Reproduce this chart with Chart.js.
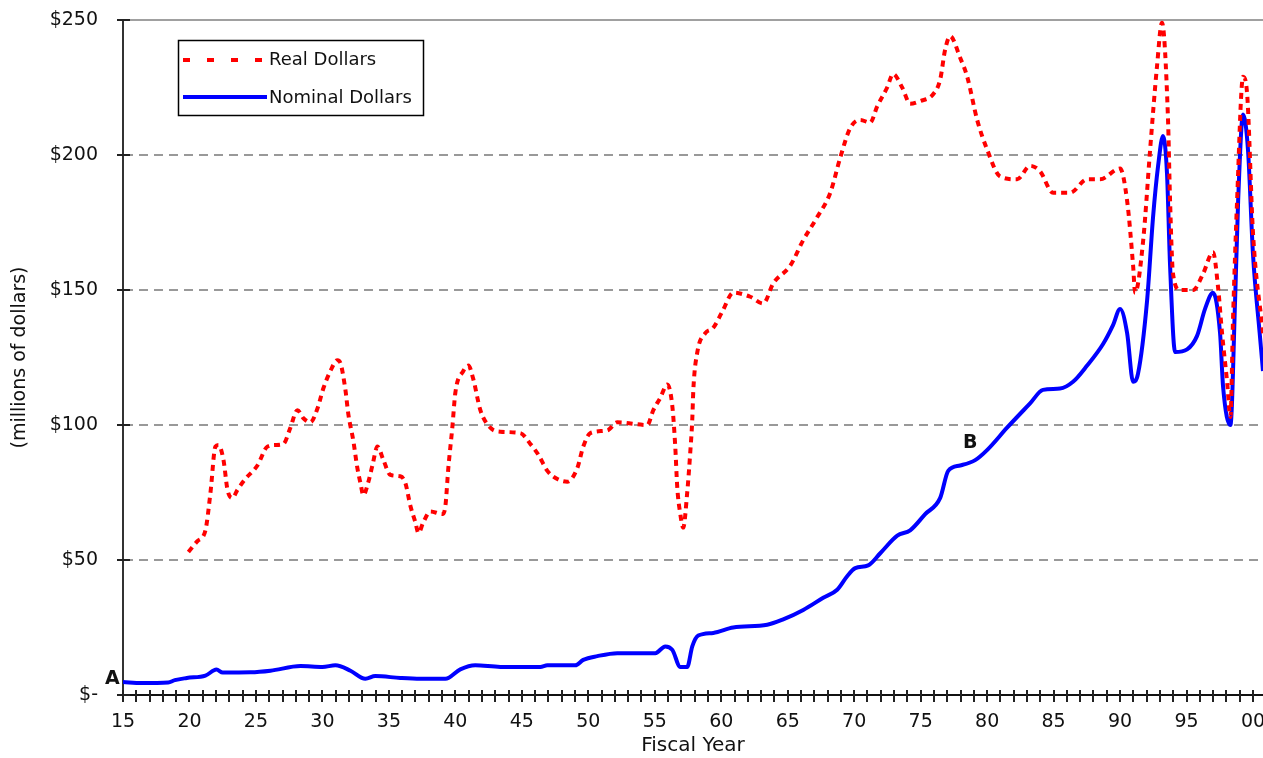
<!DOCTYPE html>
<html><head><meta charset="utf-8">
<script src="https://cdn.jsdelivr.net/npm/chart.js@4.4.0/dist/chart.umd.min.js"></script>
<style>html,body{margin:0;padding:0;background:#fff}#wrap{width:1263px;height:758px;position:relative}</style>
</head><body><div id="wrap"><canvas id="c"></canvas></div>
<script>
// ---- data (fiscal year, millions of dollars) ----
const realYears = [19.92,20.6,21.2,21.58,21.95,22.18,22.56,22.86,23.23,23.61,24.2,25.11,25.86,26.47,27.07,27.59,28.12,28.57,29.1,29.62,30.08,30.6,31.13,31.35,31.73,31.95,32.33,32.63,32.86,33.08,33.46,33.76,34.14,34.59,35.11,35.86,36.24,36.62,36.99,37.22,37.59,38.12,39.02,39.25,39.47,39.77,40.0,40.6,40.98,41.35,41.88,42.63,43.38,44.89,45.64,46.24,46.92,47.67,48.42,49.17,49.62,50.15,51.43,52.18,54.44,54.89,55.41,55.94,56.32,56.54,56.69,56.92,57.14,57.44,57.67,57.82,57.9,58.2,58.8,59.4,60.08,60.9,62.18,63.16,63.91,65.19,66.17,67.22,68.2,68.95,69.7,70.45,71.2,71.73,72.48,72.93,73.61,74.21,74.96,75.94,76.47,76.84,77.22,77.97,78.5,79.25,80.0,80.98,82.26,83.23,83.98,84.96,86.24,87.52,88.5,90.0,90.53,90.98,91.13,91.73,92.26,92.78,93.15,93.6,93.76,93.98,94.51,95.49,96.24,96.99,97.37,97.67,98.05,98.3,98.5,98.8,99.25,99.55,100.0,100.75];
const realValues = [53,57,61,75,92,92.6,87,76,73,76,80,85,92,92.6,93,99,105.5,102.5,101,106,113.7,120,124,123,113,104,94,84,78.5,74,79,85,92,87,81.5,81,78.5,70,64,60,64,68,67,70,84,99,112,120,122,117,105.5,99,97.5,97,93,89,83,80,79,84,92,97,98,101,100,105.5,110,115,107,92,77,67,62,75,90,102,113,127,134,136,142,149,147.5,145,152.5,159,168.5,177,186,199,210,213,212,218,225,230,225,219,220,222.5,228,239,244,236,229,213,202,192,191,196,194,186,186,191,191,195,183,159,149,168,202,233,249,214,183,156,150,150,156,164,151,134,116,103,140,183,229,223,171,134];
const nominalYears = [15,16.4,18.4,18.9,19.8,21.2,22.03,22.5,24.59,26.09,28.35,30,30.98,32.11,33.23,33.98,35.86,37.37,39.25,40.37,41.5,43.38,46.39,46.92,49.02,49.62,50.68,52.18,55.04,55.79,56.32,56.92,57.44,57.82,58.27,59.4,60.9,63.46,64.66,66.17,67.67,68.72,69.47,70.08,71.05,71.96,73.24,74.21,75.34,76.47,77.07,77.97,79.1,80.05,81.5,83.23,84.2,85.48,86.46,87.52,88.72,89.47,90.0,90.53,90.98,91.35,92.03,92.48,92.86,93.23,93.53,93.76,94.14,95.04,95.79,96.39,96.99,97.52,97.75,98.3,98.65,98.88,99.25,99.62,100.0,100.5,100.75];
const nominalValues = [4.8,4.4,4.6,5.5,6.3,7.2,9.4,8.3,8.4,9,10.7,10.4,11,9,6,7,6.3,6,6,9.5,11,10.4,10.4,11,11,13,14.4,15.5,15.5,18,16.7,10.4,10.4,18,22,23,25,26,28,31.5,36,39,44,47,48,52.5,59,61,67,73,83,85,87,91,99,108,113,113.5,116,122,130,137,143,134,116,119,146,177,196,207,193,159,127,128,133,143,149,134,114,100,146,183,215,202,163,134,120];

const yTickValues = [0,50,100,150,200,250];
const yTickLabels = ['$-','$50','$100','$150','$200','$250'];
const xLabelYears = [15,20,25,30,35,40,45,50,55,60,65,70,75,80,85,90,95,100];
const xLabelTexts = ['15','20','25','30','35','40','45','50','55','60','65','70','75','80','85','90','95','00'];
const seriesNames = ['Real Dollars','Nominal Dollars'];
const pointLabels = [{text:'A', x:14.2, y:5.9},{text:'B', x:78.72, y:93.3}];

const xMin = 15, xMax = 100.75;
const minorTickYears = [];
for (let yr = xMin; yr <= 100; yr++) minorTickYears.push(yr);

const FONT = 'DejaVu Sans';
Chart.defaults.font.family = FONT;
Chart.defaults.color = '#111';

const toPts = (xs, ys) => xs.map((v, i) => ({x: v, y: ys[i]}));

const crossTicks = {
  id: 'crossTicks',
  afterDraw(chart) {
    const {ctx, chartArea: a, scales: {x, y}} = chart;
    ctx.save();
    ctx.strokeStyle = '#222';
    ctx.lineWidth = 2;
    ctx.beginPath();
    x.ticks.forEach(t => {
      const px = Math.round(x.getPixelForValue(t.value));
      ctx.moveTo(px, a.bottom - 5); ctx.lineTo(px, a.bottom + 7);
    });
    y.ticks.forEach(t => {
      const py = Math.round(y.getPixelForValue(t.value));
      ctx.moveTo(a.left - 6, py); ctx.lineTo(a.left + 7, py);
    });
    ctx.stroke();
    ctx.restore();
  }
};

const topLine = {
  id: 'topLine',
  beforeDatasetsDraw(chart) {
    const {ctx, chartArea: a, scales: {y}} = chart;
    const py = y.getPixelForValue(250);
    ctx.save();
    ctx.strokeStyle = '#a0a0a0';
    ctx.lineWidth = 2;
    ctx.beginPath(); ctx.moveTo(a.left, py); ctx.lineTo(a.right, py); ctx.stroke();
    ctx.restore();
  }
};

const boxLegend = {
  id: 'boxLegend',
  afterDraw(chart) {
    const {ctx} = chart;
    const ds = chart.data.datasets;
    ctx.save();
    ctx.fillStyle = '#fff';
    ctx.fillRect(178, 40, 246, 76);
    ctx.strokeStyle = '#000';
    ctx.lineWidth = 1.5;
    ctx.strokeRect(178.5, 40.5, 245, 75);
    ctx.strokeStyle = ds[0].borderColor;
    ctx.lineWidth = 4;
    ctx.setLineDash([7, 17]);
    ctx.beginPath(); ctx.moveTo(183, 60); ctx.lineTo(266, 60); ctx.stroke();
    ctx.setLineDash([]);
    ctx.strokeStyle = ds[1].borderColor;
    ctx.beginPath(); ctx.moveTo(183, 97); ctx.lineTo(267, 97); ctx.stroke();
    ctx.fillStyle = '#111';
    ctx.font = '18px "' + FONT + '"';
    ctx.textBaseline = 'middle';
    ctx.textAlign = 'left';
    ctx.fillText(ds[0].label, 269, 60);
    ctx.fillText(ds[1].label, 269, 98);
    const {x, y} = chart.scales;
    ctx.font = 'bold 19px "' + FONT + '"';
    ctx.textAlign = 'center';
    pointLabels.forEach(p => ctx.fillText(p.text, x.getPixelForValue(p.x), y.getPixelForValue(p.y)));
    ctx.restore();
  }
};

new Chart(document.getElementById('c'), {
  type: 'line',
  data: {
    datasets: [
      {label: seriesNames[0], data: toPts(realYears, realValues), borderColor: '#ff0000', borderWidth: 4,
       borderDash: [6, 5], pointRadius: 0, cubicInterpolationMode: 'monotone', fill: false},
      {label: seriesNames[1], data: toPts(nominalYears, nominalValues), borderColor: '#0000ff', borderWidth: 4,
       pointRadius: 0, cubicInterpolationMode: 'monotone', fill: false}
    ]
  },
  options: {
    responsive: true,
    maintainAspectRatio: false,
    animation: false,
    devicePixelRatio: 1,
    layout: {padding: {top: 20, right: 0, left: 0, bottom: 0}},
    plugins: {legend: {display: false}, tooltip: {enabled: false}},
    scales: {
      x: {
        type: 'linear', min: xMin, max: xMax,
        afterBuildTicks: s => { s.ticks = minorTickYears.map(v => ({value: v})); },
        afterFit: s => { s.height = 63; s.paddingLeft = 0; s.paddingRight = 0; },
        grid: {display: false, drawTicks: false},
        border: {display: true, color: '#111', width: 2},
        ticks: {
          autoSkip: false, maxRotation: 0, minRotation: 0, padding: 16,
          font: {size: 19}, color: '#111',
          callback: v => { const i = xLabelYears.indexOf(v); return i >= 0 ? xLabelTexts[i] : ''; }
        },
        title: {display: true, text: 'Fiscal Year', font: {size: 20}, color: '#111', padding: {top: 0, bottom: 0}}
      },
      y: {
        min: 0, max: 250,
        afterBuildTicks: s => { s.ticks = yTickValues.map(v => ({value: v})); },
        afterFit: s => { s.width = 123; s.paddingTop = 0; s.paddingBottom = 0; },
        grid: {
          drawTicks: false, lineWidth: 2,
          color: c => (c.tick && (c.tick.value === 0 || c.tick.value === 250)) ? 'rgba(0,0,0,0)' : '#999'
        },
        border: {display: true, color: '#333', width: 2, dash: [9, 6]},
        ticks: {
          padding: 25, font: {size: 19}, color: '#111',
          callback: v => { const i = yTickValues.indexOf(v); return i >= 0 ? yTickLabels[i] : ''; }
        },
        title: {display: true, text: '(millions of dollars)', font: {size: 19}, color: '#111', padding: {top: 9, bottom: 0}}
      }
    }
  },
  plugins: [topLine, crossTicks, boxLegend]
});
</script></body></html>
